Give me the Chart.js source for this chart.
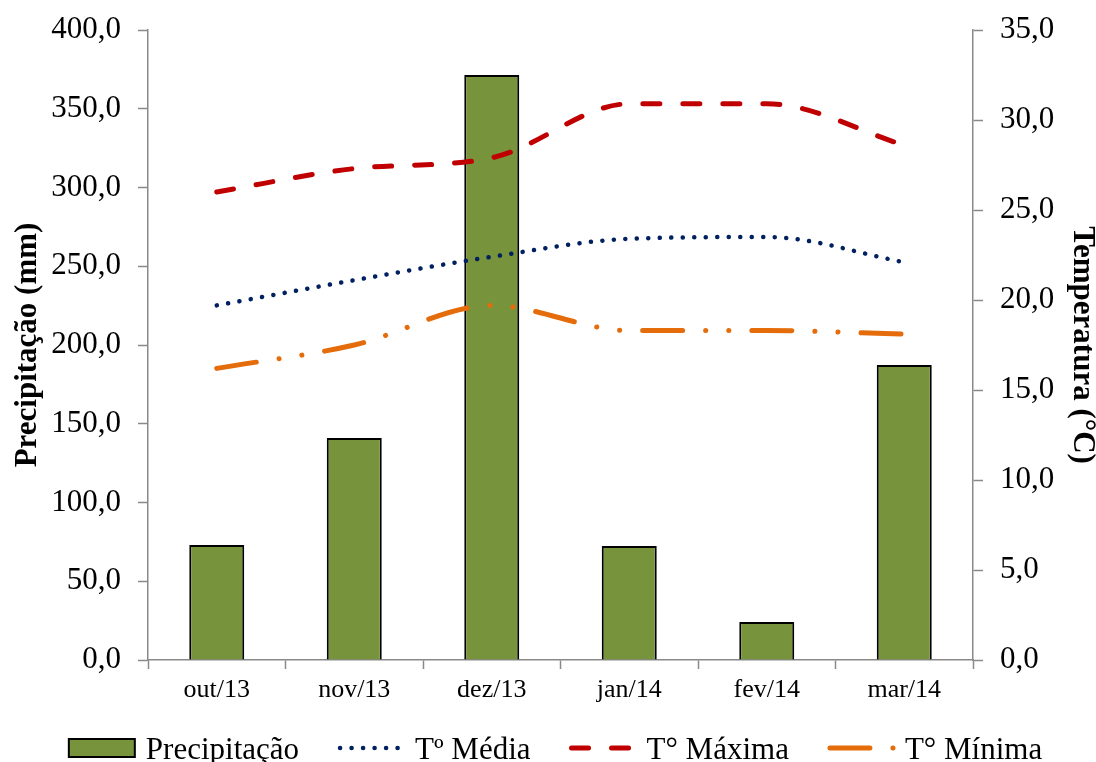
<!DOCTYPE html>
<html>
<head>
<meta charset="utf-8">
<title>Precipitação e temperatura</title>
<script src="https://cdn.jsdelivr.net/npm/chart.js@4.4.1/dist/chart.umd.min.js"></script>
<style>
  html, body { margin: 0; padding: 0; background: #ffffff; }
  #wrap { width: 1096px; height: 762px; }
</style>
</head>
<body>
<div id="wrap"><canvas id="grafico" width="1096" height="762"></canvas></div>
<script>
// Monthly series, Oct 2013 – Mar 2014
const meses = ['out/13', 'nov/13', 'dez/13', 'jan/14', 'fev/14', 'mar/14'];
const precipitacao = [73.0, 141.0, 371.4, 72.4, 24.1, 187.3];   // mm
const tMedia = [19.7, 21.1, 22.4, 23.4, 23.5, 22.1];            // °C
const tMaxima = [26.0, 27.3, 27.9, 30.9, 30.9, 28.6];           // °C
const tMinima = [16.2, 17.5, 19.7, 18.3, 18.3, 18.1];           // °C

const nomes = ['Precipitação', 'Tº Média', 'T° Máxima', 'T° Mínima'];

const SERIF = "'Liberation Serif', 'Times New Roman', serif";
const CINZA = '#898989';
const fmt = v => Number(v).toFixed(1).replace('.', ',');

// Legend row under the x axis, drawn with each dataset's own stroke style
const legendaInferior = {
  id: 'legendaInferior',
  afterDraw(chart) {
    const ctx = chart.ctx;
    const sets = chart.data.datasets;
    const yMid = 748;
    const amostra = 64, boxW = 66, boxH = 18;
    const gapTexto = 11, gapItem = 41;
    ctx.save();
    ctx.font = '31px ' + SERIF;
    const larguras = sets.map((d, i) => {
      const w = i === 0 ? boxW : amostra;
      return w + gapTexto + ctx.measureText(d.label).width;
    });
    const total = larguras.reduce((a, b) => a + b, 0) + gapItem * (sets.length - 1);
    const ca = chart.chartArea;
    let x = (ca.left + ca.right) / 2 - 5 - total / 2;
    sets.forEach((d, i) => {
      if (d.type === 'bar') {
        ctx.fillStyle = d.backgroundColor;
        ctx.fillRect(x, yMid - boxH / 2, boxW, boxH);
        ctx.lineWidth = d.borderWidth;
        ctx.strokeStyle = d.borderColor;
        ctx.strokeRect(x, yMid - boxH / 2, boxW, boxH);
        x += boxW + gapTexto;
      } else {
        ctx.beginPath();
        ctx.setLineDash(d.borderDash || []);
        ctx.lineCap = d.borderCapStyle || 'butt';
        ctx.lineWidth = d.borderWidth;
        ctx.strokeStyle = d.borderColor;
        ctx.moveTo(x, yMid);
        ctx.lineTo(x + amostra, yMid);
        ctx.stroke();
        ctx.setLineDash([]);
        x += amostra + gapTexto;
      }
      ctx.fillStyle = '#000000';
      ctx.textBaseline = 'alphabetic';
      ctx.textAlign = 'left';
      ctx.fillText(d.label, x, yMid + 10.5);
      x += ctx.measureText(d.label).width + gapItem;
    });
    ctx.restore();
  }
};

const linha = (label, data, cor, dash, largura, ordem) => ({
  type: 'line',
  label,
  data,
  yAxisID: 'y1',
  borderColor: cor,
  backgroundColor: cor,
  borderWidth: largura,
  borderDash: dash,
  borderCapStyle: 'round',
  borderJoinStyle: 'round',
  cubicInterpolationMode: 'monotone',
  pointRadius: 0,
  pointHoverRadius: 0,
  fill: false,
  order: ordem
});

// Vertical axes keep a fixed width; their label overhang does not push the plot down
const larguraFixa = w => s => {
  s.width = w;
  s.paddingTop = 0;
  s.paddingBottom = 0;
};

new Chart(document.getElementById('grafico'), {
  data: {
    labels: meses,
    datasets: [
      {
        type: 'bar',
        label: nomes[0],
        data: precipitacao,
        yAxisID: 'y',
        backgroundColor: '#77933C',
        borderColor: '#000000',
        borderWidth: 2,
        categoryPercentage: 1.0,
        barPercentage: 0.4,
        order: 5
      },
      linha(nomes[1], tMedia, '#002060', [0.1, 11.4], 4.5, 1),
      linha(nomes[2], tMaxima, '#C00000', [17, 23], 5, 2),
      linha(nomes[3], tMinima, '#E46C0A', [40, 23, 0.1, 23, 0.1, 23], 5, 3)
    ]
  },
  options: {
    responsive: false,
    animation: false,
    devicePixelRatio: 1,
    layout: { padding: { top: 30, left: 0, right: 0, bottom: 0 } },
    plugins: {
      legend: { display: false },
      tooltip: { enabled: false },
      title: { display: false }
    },
    scales: {
      x: {
        type: 'category',
        offset: true,
        grid: {
          display: true, offset: true, drawOnChartArea: false, drawTicks: true,
          tickLength: 9, tickColor: CINZA, tickWidth: 1.5
        },
        border: { display: true, color: CINZA, width: 1.5 },
        ticks: {
          font: { family: SERIF, size: 26 }, color: '#000000',
          padding: 6, maxRotation: 0, autoSkip: false
        },
        afterFit(s) { s.height = 102; }
      },
      y: {
        position: 'left',
        min: 0, max: 400,
        ticks: {
          stepSize: 50, callback: fmt,
          font: { family: SERIF, size: 31 }, color: '#000000', padding: 17
        },
        grid: {
          drawOnChartArea: false, drawTicks: true,
          tickLength: 10, tickColor: CINZA, tickWidth: 1.5
        },
        border: { display: true, color: CINZA, width: 1.5 },
        title: {
          display: true, text: 'Precipitação (mm)', color: '#000000',
          font: { family: SERIF, size: 31, weight: 'bold', lineHeight: 0.9 },
          padding: { top: 14, bottom: 0 }
        },
        afterFit: larguraFixa(148)
      },
      y1: {
        position: 'right',
        min: 0, max: 35,
        ticks: {
          stepSize: 5, callback: fmt,
          font: { family: SERIF, size: 31 }, color: '#000000', padding: 17
        },
        grid: {
          drawOnChartArea: false, drawTicks: true,
          tickLength: 10, tickColor: CINZA, tickWidth: 1.5
        },
        border: { display: true, color: CINZA, width: 1.5 },
        title: {
          display: true, text: 'Temperatura (°C)', color: '#000000',
          font: { family: SERIF, size: 31, weight: 'bold', lineHeight: 0.9 },
          padding: { top: 0, bottom: 0 }
        },
        afterFit: larguraFixa(123)
      }
    }
  },
  plugins: [legendaInferior]
});
</script>
</body>
</html>
